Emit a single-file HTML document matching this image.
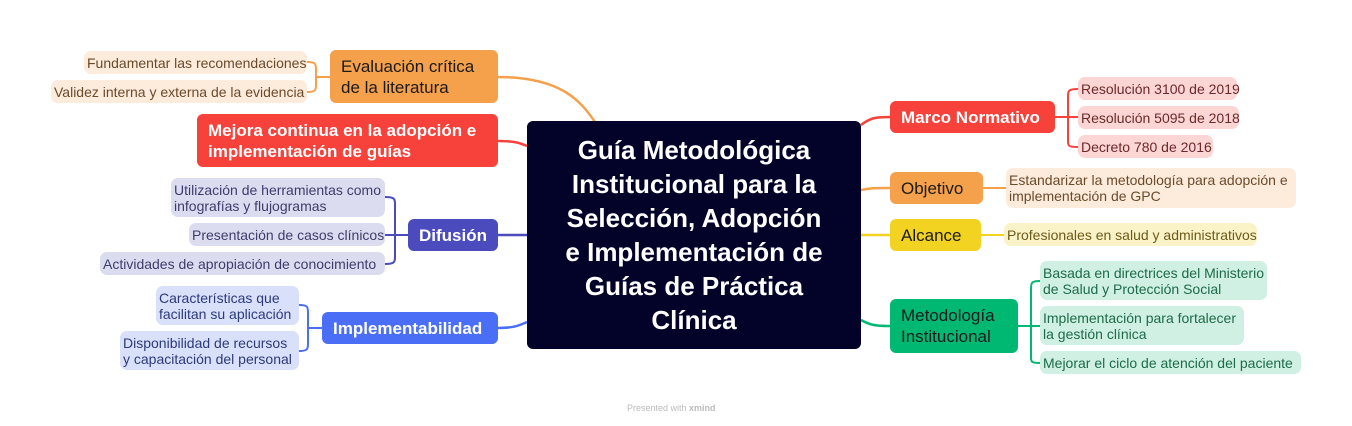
<!DOCTYPE html>
<html><head><meta charset="utf-8"><style>
body{margin:0;width:1352px;height:426px;background:#fff;position:relative;overflow:hidden;font-family:"Liberation Sans","DejaVu Sans",sans-serif}
.b{position:absolute;box-sizing:border-box;border-radius:6px;display:flex;align-items:center;white-space:nowrap}
.s{font-size:14px;line-height:16px;padding:0 3px;border-radius:7px}
.m{font-size:17px;line-height:21px;padding:0 11px;border-radius:6px}
svg{position:absolute;left:0;top:0}
</style></head><body>
<svg width="1352" height="426" fill="none" stroke-width="2.5">
<path d="M498 77 C560 77 580 100 595 122" stroke="#F5A04A"/>
<path d="M498 141 C515 141 520 143 527 146" stroke="#F6423A"/>
<path d="M498 235 L527 235" stroke="#4B4BBE"/>
<path d="M498 328 C515 328 520 325 527 322" stroke="#4A6EF5"/>
<path d="M861 125 C870 118 875 117 890 117" stroke="#F6423A"/>
<path d="M861 190 C870 188 875 188 890 188" stroke="#F5A04A"/>
<path d="M861 235 L890 235" stroke="#F2D322"/>
<path d="M861 320 C870 325 875 326 890 326" stroke="#00B872"/>
<g stroke-width="2">
<path d="M307 62 C316 62 316 64 316 70 L316 84 C316 90 316 92 307 92 M316 77 L330 77" stroke="#F5A04A"/>
<path d="M385 197 C395 197 395 199 395 205 L395 256 C395 262 395 264 385 264 M385 235 L408 235" stroke="#4B4BBE"/>
<path d="M299 305 C308 305 308 307 308 313 L308 343 C308 349 308 351 299 351 M308 328 L322 328" stroke="#4A6EF5"/>
<path d="M1078 89 C1068 89 1068 91 1068 97 L1068 140 C1068 146 1068 147 1078 147 M1055 117 L1078 117" stroke="#F6423A"/>
<path d="M983 188 L1006 188" stroke="#F5A04A"/>
<path d="M981 235 L1004 235" stroke="#F2D322"/>
<path d="M1040 281 C1031 281 1031 283 1031 289 L1031 356 C1031 362 1031 363 1040 363 M1018 326 L1040 326" stroke="#00B872"/>
</g>
</svg>
<div class="b s" style="left:84px;top:51px;width:223px;height:23px;background:#FDEBDC;color:#6b4a2a">Fundamentar las recomendaciones</div>
<div class="b s" style="left:51px;top:80px;width:256px;height:23px;background:#FDEBDC;color:#6b4a2a">Validez interna y externa de la evidencia</div>
<div class="b m" style="left:330px;top:50px;width:168px;height:53px;background:#F5A04A;color:#1a1a1a">Evaluación crítica<br>de la literatura</div>
<div class="b m" style="left:197px;top:114px;width:301px;height:53px;background:#F6423A;color:#fff;font-weight:bold">Mejora continua en la adopción e<br>implementación de guías</div>
<div class="b s" style="left:171px;top:178px;width:214px;height:39px;background:#DCDCF0;color:#3d3d6b">Utilización de herramientas como<br>infografías y flujogramas</div>
<div class="b s" style="left:189px;top:223px;width:196px;height:23px;background:#DCDCF0;color:#3d3d6b">Presentación de casos clínicos</div>
<div class="b s" style="left:100px;top:252px;width:285px;height:23px;background:#DCDCF0;color:#3d3d6b">Actividades de apropiación de conocimiento</div>
<div class="b m" style="left:408px;top:219px;width:90px;height:32px;background:#4B4BBE;color:#fff;font-weight:bold">Difusión</div>
<div class="b s" style="left:156px;top:286px;width:143px;height:39px;background:#D9E0FA;color:#2d3a7a">Características que<br>facilitan su aplicación</div>
<div class="b s" style="left:120px;top:331px;width:179px;height:39px;background:#D9E0FA;color:#2d3a7a">Disponibilidad de recursos<br>y capacitación del personal</div>
<div class="b m" style="left:322px;top:312px;width:176px;height:32px;background:#4A6EF5;color:#fff;font-weight:bold">Implementabilidad</div>
<div class="b" style="left:527px;top:121px;width:334px;height:228px;background:#03032A;color:#fff;font-weight:bold;font-size:26px;line-height:34px;justify-content:center;text-align:center;border-radius:6px">Guía Metodológica<br>Institucional para la<br>Selección, Adopción<br>e Implementación de<br>Guías de Práctica<br>Clínica</div>
<div class="b m" style="left:890px;top:101px;width:165px;height:32px;background:#F6423A;color:#fff;font-weight:bold">Marco Normativo</div>
<div class="b s" style="left:1078px;top:77px;width:159px;height:23px;background:#FCD5D5;color:#6b2a2a">Resolución 3100 de 2019</div>
<div class="b s" style="left:1078px;top:106px;width:161px;height:23px;background:#FCD5D5;color:#6b2a2a">Resolución 5095 de 2018</div>
<div class="b s" style="left:1078px;top:135px;width:135px;height:23px;background:#FCD5D5;color:#6b2a2a">Decreto 780 de 2016</div>
<div class="b m" style="left:890px;top:172px;width:93px;height:32px;background:#F5A04A;color:#1a1a1a">Objetivo</div>
<div class="b s" style="left:1006px;top:168px;width:290px;height:40px;background:#FDEBDC;color:#6b4a2a">Estandarizar la metodología para adopción e<br>implementación de GPC</div>
<div class="b m" style="left:890px;top:219px;width:91px;height:32px;background:#F2D322;color:#1a1a1a">Alcance</div>
<div class="b s" style="left:1004px;top:223px;width:253px;height:23px;background:#FBF3C8;color:#6b5a1a">Profesionales en salud y administrativos</div>
<div class="b m" style="left:890px;top:299px;width:128px;height:54px;background:#00B872;color:#1a1a1a">Metodología<br>Institucional</div>
<div class="b s" style="left:1040px;top:261px;width:227px;height:39px;background:#CFF0E3;color:#1d6b4a">Basada en directrices del Ministerio<br>de Salud y Protección Social</div>
<div class="b s" style="left:1040px;top:306px;width:204px;height:39px;background:#CFF0E3;color:#1d6b4a">Implementación para fortalecer<br>la gestión clínica</div>
<div class="b s" style="left:1040px;top:351px;width:261px;height:23px;background:#CFF0E3;color:#1d6b4a">Mejorar el ciclo de atención del paciente</div>
<div style="position:absolute;left:627px;top:403px;font-size:9px;color:#bbb">Presented with <b>xmind</b></div>
</body></html>
